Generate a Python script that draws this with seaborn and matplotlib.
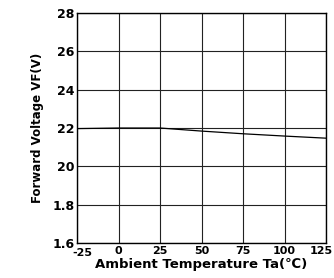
import numpy as np
import pandas as pd
import matplotlib
matplotlib.use('Agg')
import matplotlib.pyplot as plt
import matplotlib.transforms as mtransforms
import seaborn as sns

# data
temp = [-25, 0, 25, 50, 75, 100, 125]
vf = [2.197, 2.200, 2.200, 2.184, 2.170, 2.158, 2.147]
xticks = [-25, 0, 25, 50, 75, 100, 125]
yticks = [1.6, 1.8, 2.0, 2.2, 2.4, 2.6, 2.8]
ylabels = ['1.6', '1.8', '20', '22', '24', '26', '28']

df = pd.DataFrame({'temp': temp, 'vf': vf})

sns.set_style('white')
plt.rcParams['font.family'] = ['DejaVu Sans']

fig = plt.figure(figsize=(3.34, 2.78), dpi=100)
ax = fig.add_axes([0.231, 0.126, 0.745, 0.827])

sns.lineplot(data=df, x='temp', y='vf', ax=ax, color='black', linewidth=0.9)

ax.set_xlim(-25, 125)
ax.set_ylim(1.6, 2.8)
ax.set_xticks(xticks)
ax.set_yticks(yticks)
ax.set_yticklabels(ylabels, fontsize=9, fontweight='bold', color='black')
ax.set_xticklabels([str(t) for t in xticks], fontsize=8, fontweight='bold', color='black')
ax.grid(True, color='#222222', linewidth=0.8)
ax.tick_params(length=0, pad=2)
for s in ax.spines.values():
    s.set_color('black')
    s.set_linewidth(1.0)

# nudge edge labels so they do not collide / get cut
xl = ax.get_xticklabels()
xl[0].set_transform(xl[0].get_transform() + mtransforms.ScaledTranslation(5/100, -2/100, fig.dpi_scale_trans))
xl[-1].set_transform(xl[-1].get_transform() + mtransforms.ScaledTranslation(-5/100, 0, fig.dpi_scale_trans))

ax.set_xlabel('Ambient Temperature Ta(℃)', fontsize=9.5, fontweight='bold', labelpad=0, color='black')
ax.set_ylabel('Forward Voltage VF(V)', fontsize=8.5, fontweight='bold', labelpad=6, color='black')

plt.savefig('out.png', dpi=100)
